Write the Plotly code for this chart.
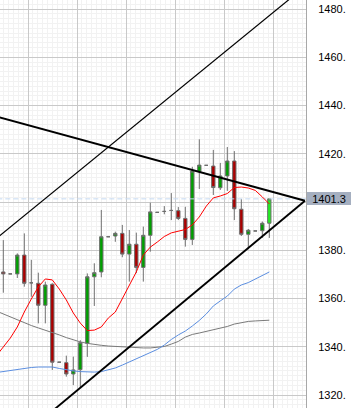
import plotly.graph_objects as go

# ---- candle data (one slot per bar) ----
slots = list(range(39))
opens = [1371.0, 1370.2, 1370.2, 1378.0, 1366.5, 1366.3, 1357.2, 1365.9, 1333.6, 1333.4,
         1328.7, 1330.5, 1341.4, 1369.0, 1371.0, 1385.6, 1385.9, 1387.0, 1378.4, 1382.5,
         1372.9, 1386.2, 1395.7, 1396.1, 1396.5, 1396.4, 1393.2, 1384.5, 1412.6, 1415.2,
         1414.9, 1405.9, 1410.8, 1417.0, 1397.0, 1386.6, 1388.0, 1388.1, 1391.2]
highs = [1384.2, 1370.2, 1378.7, 1387.0, 1376.0, 1370.7, 1367.0, 1366.3, 1333.6, 1336.3,
         1335.9, 1342.7, 1370.4, 1374.6, 1396.7, 1385.6, 1387.7, 1390.5, 1388.4, 1387.3,
         1389.8, 1399.7, 1395.7, 1398.3, 1403.7, 1397.9, 1398.0, 1414.6, 1426.0, 1415.2,
         1421.6, 1416.2, 1422.8, 1421.1, 1401.2, 1388.8, 1388.0, 1391.9, 1401.3]
lows = [1362.4, 1370.2, 1368.5, 1364.9, 1360.7, 1349.7, 1349.7, 1330.4, 1333.6, 1327.6,
        1324.1, 1323.3, 1335.8, 1356.9, 1368.8, 1385.6, 1383.5, 1377.1, 1367.0, 1370.5,
        1367.0, 1379.4, 1395.7, 1394.9, 1392.5, 1392.5, 1381.5, 1382.2, 1405.4, 1415.2,
        1402.9, 1405.0, 1404.6, 1392.5, 1385.9, 1380.4, 1388.0, 1385.1, 1385.1]
closes = [1370.2, 1370.2, 1378.0, 1366.3, 1366.5, 1357.2, 1365.6, 1333.6, 1333.6, 1328.7,
          1330.4, 1341.7, 1369.0, 1370.7, 1385.6, 1385.6, 1387.0, 1378.4, 1382.5, 1372.9,
          1386.2, 1395.9, 1395.7, 1396.1, 1396.5, 1393.2, 1384.5, 1412.8, 1415.3, 1415.2,
          1406.0, 1410.8, 1417.0, 1397.2, 1386.6, 1388.3, 1388.0, 1391.2, 1401.3]

# ---- moving averages (slot -1 .. 38) ----
ma_slots = list(range(-1, 39))
ma_red = [1336.2, 1339.9, 1343.6, 1348.2, 1354.4, 1359.8, 1364.8, 1368.1, 1367.7, 1363.9,
          1359.4, 1354.0, 1349.8, 1346.7, 1346.9, 1348.2, 1351.9, 1354.4, 1359.8, 1365.6,
          1371.0, 1378.0, 1381.3, 1383.4, 1385.7, 1387.2, 1388.0, 1388.6, 1390.5, 1393.8,
          1398.3, 1401.7, 1402.5, 1403.5, 1406.0, 1406.2, 1405.8, 1404.8, 1402.1, 1399.2]
ma_blue = [1329.3, 1329.7, 1330.4, 1330.8, 1331.2, 1331.4, 1331.6, 1331.6, 1331.6, 1331.0,
           1330.4, 1330.0, 1329.7, 1329.5, 1329.5, 1329.7, 1330.4, 1331.2, 1332.4, 1333.7,
           1334.7, 1336.0, 1337.4, 1338.9, 1340.7, 1343.0, 1344.9, 1346.5, 1348.6, 1350.9,
           1353.6, 1356.9, 1359.0, 1361.0, 1363.9, 1365.6, 1366.6, 1368.1, 1369.5, 1371.0]
ma_gray = [1354.8, 1353.6, 1352.3, 1350.9, 1349.8, 1348.8, 1347.8, 1346.9, 1345.9, 1344.9,
           1343.8, 1342.8, 1342.0, 1341.4, 1340.9, 1340.6, 1340.3, 1340.1, 1339.9, 1339.7,
           1339.5, 1339.5, 1339.5, 1339.7, 1340.1, 1341.1, 1342.2, 1344.0, 1345.1, 1345.7,
           1346.3, 1346.9, 1347.8, 1348.4, 1349.4, 1350.1, 1350.5, 1350.7, 1350.9, 1351.0]

# ---- trend lines (endpoints in slot / price units) ----
trend_down_x = [-1, 43.1]
trend_down_y = [1435.4, 1400.5]
trend_low_x = [5.0, 43.1]
trend_low_y = [1308.5, 1400.5]
trend_up_x = [-1, 43.0]
trend_up_y = [1384.9, 1489.1]

current_price = 1401.3
y_ticks = [1320, 1340, 1360, 1380, 1400, 1420, 1440, 1460, 1480]
y_tick_text = ["1320.", "1340.", "1360.", "1380.", "", "1420.", "1440.", "1460.", "1480."]
x_grid_start = 3.53
x_grid_step = 7

WICK = "#6e6e6e"
fig = go.Figure()

n = len(slots) - 1
fig.add_trace(go.Candlestick(
    x=slots[:n], open=opens[:n], high=highs[:n], low=lows[:n], close=closes[:n],
    increasing=dict(line=dict(color=WICK, width=1), fillcolor="#00a000"),
    decreasing=dict(line=dict(color=WICK, width=1), fillcolor="#aa0000"),
    whiskerwidth=0, hoverinfo="skip", showlegend=False))
fig.add_trace(go.Candlestick(
    x=slots[n:], open=opens[n:], high=highs[n:], low=lows[n:], close=closes[n:],
    increasing=dict(line=dict(color=WICK, width=1), fillcolor="#22ee22"),
    decreasing=dict(line=dict(color=WICK, width=1), fillcolor="#22ee22"),
    whiskerwidth=0, hoverinfo="skip", showlegend=False))

fig.add_trace(go.Scatter(x=[-2, 45], y=[current_price, current_price], mode="lines",
                         line=dict(color="#c6daf2", width=1, dash="5px,3px"),
                         hoverinfo="skip", showlegend=False))

for vals, col in ((ma_gray, "#7a7a7a"), (ma_blue, "#5b8ee0"), (ma_red, "#ff0000")):
    fig.add_trace(go.Scatter(x=ma_slots, y=vals, mode="lines",
                             line=dict(color=col, width=1),
                             hoverinfo="skip", showlegend=False))

for tx, ty, w in ((trend_down_x, trend_down_y, 1.9),
                  (trend_low_x, trend_low_y, 1.9),
                  (trend_up_x, trend_up_y, 1.2)):
    fig.add_trace(go.Scatter(x=tx, y=ty, mode="lines",
                             line=dict(color="#000000", width=w),
                             hoverinfo="skip", showlegend=False))

fig.update_layout(
    width=351, height=408,
    margin=dict(l=0, r=45, t=0, b=0),
    paper_bgcolor="white", plot_bgcolor="white",
    boxgap=0.32,
    font=dict(family="Liberation Sans, Arial, sans-serif", size=11, color="#000"),
    xaxis=dict(range=[-0.471, 43.24], rangeslider=dict(visible=False),
               showticklabels=False, ticks="", showline=False, zeroline=False,
               tickmode="linear", tick0=x_grid_start, dtick=x_grid_step,
               showgrid=True, gridcolor="#c9c9c9", gridwidth=1,
               minor=dict(tick0=x_grid_start, dtick=x_grid_step / 10, showgrid=True,
                          gridcolor="#f2f2f2", griddash="solid", gridwidth=1)),
    yaxis=dict(range=[1314.61, 1483.73], side="right",
               tickmode="array", tickvals=y_ticks, ticktext=y_tick_text,
               ticks="outside", ticklen=9, tickcolor="rgba(0,0,0,0)",
               showline=True, linecolor="#a8a8a8", linewidth=1, mirror=False,
               zeroline=False, showgrid=True, gridcolor="#c9c9c9", gridwidth=1,
               minor=dict(dtick=2, showgrid=True, gridcolor="#f2f2f2",
                          griddash="solid", gridwidth=1)),
    annotations=[dict(xref="paper", x=1, xanchor="left", xshift=1,
                      yref="y", y=current_price, yanchor="middle",
                      text=f"{current_price:.1f}", showarrow=False,
                      bgcolor="#a5afc0", width=44, height=13, borderpad=0,
                      borderwidth=0, align="center",
                      font=dict(family="Liberation Sans, Arial, sans-serif",
                                size=11, color="#000"))],
)

fig.write_html("out.html", config={"displayModeBar": False})
